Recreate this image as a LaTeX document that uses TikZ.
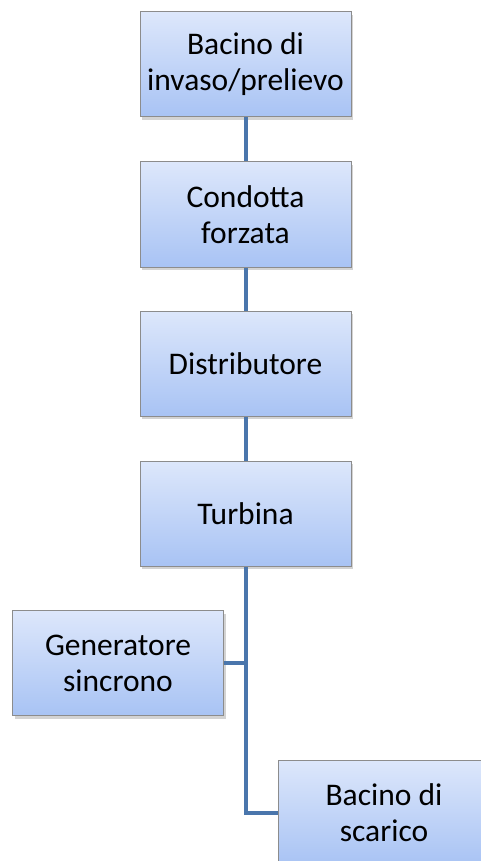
\documentclass[tikz,border=0pt]{standalone}
\usepackage{fontspec}
\setmainfont{Carlito}
\usetikzlibrary{positioning, shadows}

\definecolor{boxTop}{HTML}{DDE7FB}
\definecolor{boxBottom}{HTML}{A8C3F4}
\definecolor{boxBorder}{HTML}{8C8C8C}
\definecolor{lineColour}{HTML}{4A76AC}

\tikzset{
    stage/.style={rectangle, draw=boxBorder, line width=1pt,
        top color=boxTop, bottom color=boxBottom,
        minimum width=211pt, minimum height=105pt,
        align=center, font=\fontsize{31.5}{36}\selectfont,
        drop shadow={shadow xshift=2pt, shadow yshift=-3pt, opacity=0.35}},
    link/.style={draw=lineColour, line width=4pt}
}

\begin{document}
\begin{tikzpicture}[x=1pt, y=-1pt]
    % Fix the page size
    \useasboundingbox (0,0) rectangle (481,861);
    \clip (0,0) rectangle (481,861);

    % Main chain
    \node[stage] (invaso) at (245.5,64.5) {Bacino di\\invaso/prelievo};
    \node[stage] (condotta) at (245.5,214.5) {Condotta\\forzata};
    \node[stage] (distrib) at (245.5,363.5) {Distributore};
    \node[stage] (turbina) at (245.5,513.5) {Turbina};

    % Side boxes
    \node[stage] (generatore) at (118,663) {Generatore\\sincrono};
    \node[stage] (scarico) at (384,812.5) {Bacino di\\scarico};

    % Connectors
    \draw[link] (invaso.south) -- (condotta.north);
    \draw[link] (condotta.south) -- (distrib.north);
    \draw[link] (distrib.south) -- (turbina.north);
    \draw[link] (turbina.south) |- (scarico.west);
    \draw[link] (generatore.east) -- (generatore.east -| turbina.south);

\end{tikzpicture}
\end{document}
